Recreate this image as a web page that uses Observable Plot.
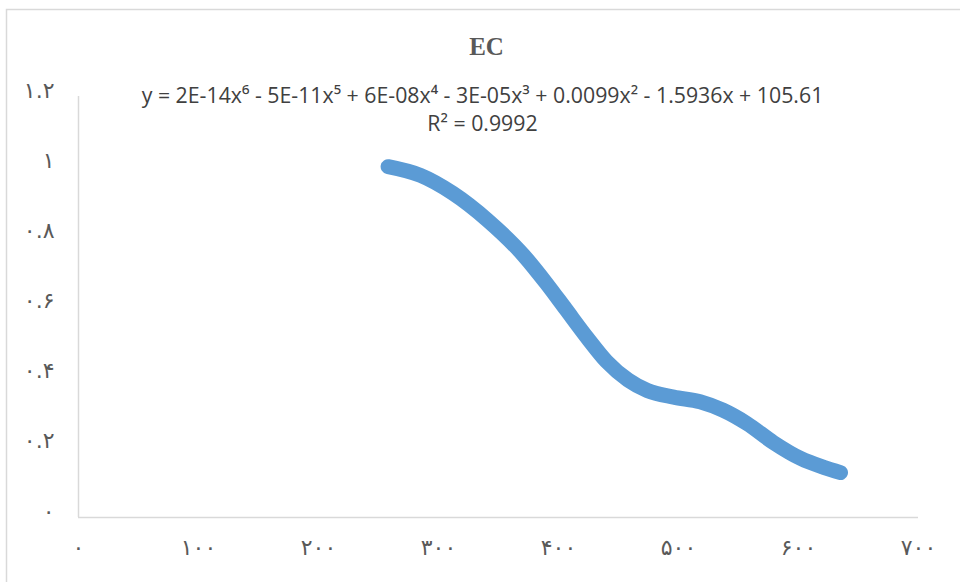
<!DOCTYPE html>
<html>
<head>
<meta charset="utf-8">
<script src="https://cdn.jsdelivr.net/npm/d3@7"></script>
<script src="https://cdn.jsdelivr.net/npm/@observablehq/plot@0.6"></script>
<style>
  html, body { margin: 0; padding: 0; background: #fff; }
  #chart { width: 960px; height: 582px; }
</style>
</head>
<body>
<div id="chart"></div>
<script>
// Data
const xValues = [258, 285, 312, 341, 371, 390, 406, 424, 440, 458, 474, 496, 518, 537, 557, 579, 602, 621, 635];
const yValues = [1.000, 0.975, 0.924, 0.847, 0.747, 0.667, 0.594, 0.512, 0.445, 0.392, 0.362, 0.343, 0.330, 0.306, 0.268, 0.214, 0.168, 0.143, 0.128];
const xTicks = [0, 100, 200, 300, 400, 500, 600, 700];
const yTicks = [0, 0.2, 0.4, 0.6, 0.8, 1, 1.2];
const titleText = "EC";
const equationText = "y = 2E-14x⁶ - 5E-11x⁵ + 6E-08x⁴ - 3E-05x³ + 0.0099x² - 1.5936x + 105.61";
const r2Text = "R² = 0.9992";

const data = xValues.map((x, i) => ({x, y: yValues[i]}));
const fa = d => String(d).replace(/[0-9]/g, c => "۰۱۲۳۴۵۶۷۸۹"[+c]);

const plot = Plot.plot({
  width: 960,
  height: 582,
  marginLeft: 78,
  marginRight: 42,
  marginTop: 96,
  marginBottom: 65,
  style: {fontFamily: "'DejaVu Sans', sans-serif", background: "#fff"},
  x: {domain: [0, 700]},
  y: {domain: [0, 1.2]},
  marks: [
    Plot.ruleX([0], {stroke: "#d9d9d9", strokeWidth: 1.5}),
    Plot.ruleY([0], {stroke: "#d9d9d9", strokeWidth: 1.5}),
    Plot.axisX({ticks: xTicks, tickSize: 0, tickPadding: 22, tickFormat: fa, fontSize: 22, fill: "#595959", label: null}),
    Plot.axisY({ticks: yTicks, tickSize: 0, tickPadding: 24, tickFormat: fa, fontSize: 22, fill: "#595959", label: null, dy: -6}),
    Plot.line(data, {x: "x", y: "y", stroke: "#5b9bd5", strokeWidth: 15, strokeLinecap: "round", strokeLinejoin: "round", curve: "monotone-x"}),
    Plot.text([titleText], {text: d => d, frameAnchor: "top", dy: -50, dx: -12, fontSize: 25, fontWeight: "bold", fontFamily: "'Liberation Serif', serif", fill: "#595959", lineAnchor: "middle"}),
    Plot.text([equationText], {text: d => d, frameAnchor: "top", dy: 0, dx: -16, fontSize: 21.3, fontFamily: "'Open Sans', sans-serif", fill: "#404040", lineAnchor: "middle"}),
    Plot.text([r2Text], {text: d => d, frameAnchor: "top", dy: 28, dx: -16, fontSize: 21.3, fontFamily: "'Open Sans', sans-serif", fill: "#404040", lineAnchor: "middle"})
  ]
});

d3.select(plot).insert("rect", ":first-child")
  .attr("x", 6.5).attr("y", 9.5).attr("width", 1000).attr("height", 1000)
  .attr("fill", "none").attr("stroke", "#d9d9d9").attr("stroke-width", 1.5);

document.getElementById("chart").appendChild(plot);
</script>
</body>
</html>
